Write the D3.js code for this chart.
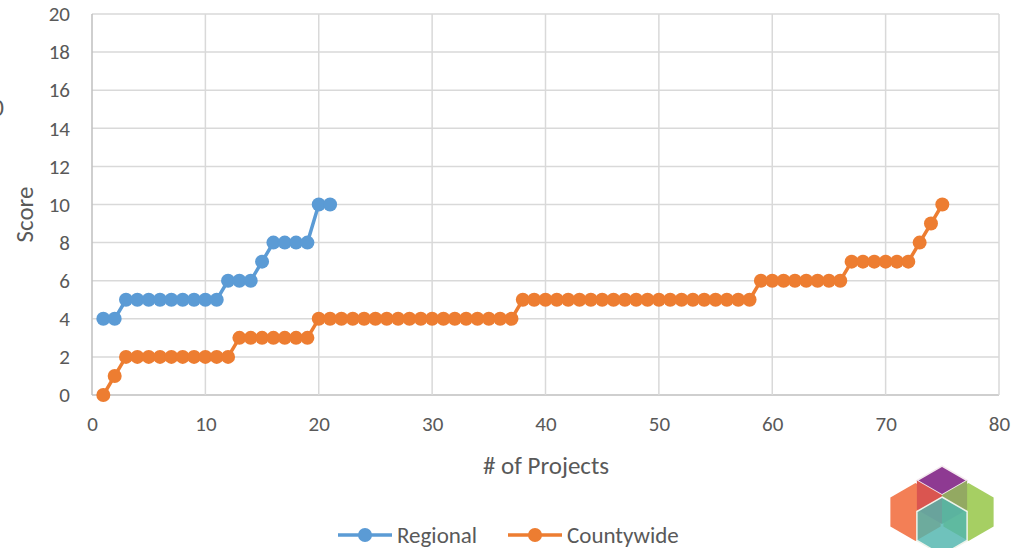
<!DOCTYPE html>
<html>
<head>
<meta charset="utf-8">
<script src="https://cdn.jsdelivr.net/npm/d3@7"></script>
<style>
  html, body { margin: 0; padding: 0; background: #fff; }
  svg { display: block; }
  text { font-family: Carlito, Lato, "Open Sans", sans-serif; fill: #595959; }
</style>
</head>
<body>
<div id="chart"></div>
<script>
// data: project number (x) and score (y)
var regionalX = [1, 2, 3, 4, 5, 6, 7, 8, 9, 10, 11, 12, 13, 14, 15, 16, 17, 18, 19, 20, 21];
var regionalY = [4, 4, 5, 5, 5, 5, 5, 5, 5, 5, 5, 6, 6, 6, 7, 8, 8, 8, 8, 10, 10];

var countyX = [1, 2, 3, 4, 5, 6, 7, 8, 9, 10, 11, 12, 13, 14, 15, 16, 17, 18, 19, 20,
  21, 22, 23, 24, 25, 26, 27, 28, 29, 30, 31, 32, 33, 34, 35, 36, 37, 38, 39, 40,
  41, 42, 43, 44, 45, 46, 47, 48, 49, 50, 51, 52, 53, 54, 55, 56, 57, 58, 59, 60,
  61, 62, 63, 64, 65, 66, 67, 68, 69, 70, 71, 72, 73, 74, 75];
var countyY = [0, 1, 2, 2, 2, 2, 2, 2, 2, 2, 2, 2, 3, 3, 3, 3, 3, 3, 3, 4,
  4, 4, 4, 4, 4, 4, 4, 4, 4, 4, 4, 4, 4, 4, 4, 4, 4, 5, 5, 5,
  5, 5, 5, 5, 5, 5, 5, 5, 5, 5, 5, 5, 5, 5, 5, 5, 5, 5, 6, 6,
  6, 6, 6, 6, 6, 6, 7, 7, 7, 7, 7, 7, 8, 9, 10];

var xTicks = [0, 10, 20, 30, 40, 50, 60, 70, 80];
var yTicks = [0, 2, 4, 6, 8, 10, 12, 14, 16, 18, 20];
var seriesNames = ["Regional", "Countywide"];
var seriesColors = ["#5b9bd5", "#ed7d31"];

var width = 1017, height = 548;
var margin = {top: 14, right: 18, bottom: 153, left: 92};
var plotW = width - margin.left - margin.right;
var plotH = height - margin.top - margin.bottom;

var svg = d3.select("#chart").append("svg")
  .attr("width", width).attr("height", height);

var x = d3.scaleLinear().domain([0, 80]).range([margin.left, margin.left + plotW]);
var y = d3.scaleLinear().domain([0, 20]).range([margin.top + plotH, margin.top]);

// grid
svg.append("g").selectAll("line.h").data(yTicks).enter().append("line")
  .attr("x1", x(0)).attr("x2", x(80))
  .attr("y1", function(d) { return y(d); }).attr("y2", function(d) { return y(d); })
  .attr("stroke", function(d) { return d === 0 ? "#bfbfbf" : "#d9d9d9"; })
  .attr("stroke-width", 1.5);
svg.append("g").selectAll("line.v").data(xTicks).enter().append("line")
  .attr("y1", y(0)).attr("y2", y(20))
  .attr("x1", function(d) { return x(d); }).attr("x2", function(d) { return x(d); })
  .attr("stroke", function(d) { return d === 0 ? "#bfbfbf" : "#d9d9d9"; })
  .attr("stroke-width", 1.5);

// axes (labels only)
var yAxis = svg.append("g")
  .attr("transform", "translate(" + (margin.left - 22) + ",0)")
  .call(d3.axisLeft(y).tickValues(yTicks).tickSize(0).tickPadding(0));
yAxis.select(".domain").remove();
yAxis.selectAll("text").style("font-size", "21px").attr("fill", "#595959");

var xAxis = svg.append("g")
  .attr("transform", "translate(0," + (y(0) + 21) + ")")
  .call(d3.axisBottom(x).tickValues(xTicks).tickSize(0).tickPadding(0));
xAxis.select(".domain").remove();
xAxis.selectAll("text").style("font-size", "21px").attr("fill", "#595959");

// axis titles
svg.append("text")
  .attr("transform", "translate(24," + (margin.top + plotH / 2 + 10) + ") rotate(-90)")
  .attr("text-anchor", "middle")
  .attr("dy", ".35em")
  .style("font-size", "25px")
  .text("Score");
svg.append("text")
  .attr("x", 546).attr("y", 465)
  .attr("text-anchor", "middle")
  .attr("dy", ".35em")
  .style("font-size", "25px")
  .text("# of Projects");

// clipped text on left edge
svg.append("text")
  .attr("x", 4).attr("y", 108)
  .attr("text-anchor", "end")
  .attr("dy", ".35em")
  .style("font-size", "24px")
  .text("0");

// series
var series = [
  {name: seriesNames[0], color: seriesColors[0], xs: regionalX, ys: regionalY},
  {name: seriesNames[1], color: seriesColors[1], xs: countyX, ys: countyY}
];

var line = d3.line()
  .x(function(d) { return x(d[0]); })
  .y(function(d) { return y(d[1]); });

series.forEach(function(s) {
  var pts = d3.zip(s.xs, s.ys);
  svg.append("path")
    .datum(pts)
    .attr("d", line)
    .attr("fill", "none")
    .attr("stroke", s.color)
    .attr("stroke-width", 3.5)
    .attr("stroke-linejoin", "round");
  svg.append("g").selectAll("circle").data(pts).enter().append("circle")
    .attr("cx", function(d) { return x(d[0]); })
    .attr("cy", function(d) { return y(d[1]); })
    .attr("r", 7)
    .attr("fill", s.color);
});

// legend
var legendPos = [338, 508];
series.forEach(function(s, i) {
  var lx = legendPos[i], ly = 535;
  svg.append("line")
    .attr("x1", lx).attr("x2", lx + 54)
    .attr("y1", ly).attr("y2", ly)
    .attr("stroke", s.color).attr("stroke-width", 3.5);
  svg.append("circle")
    .attr("cx", lx + 27).attr("cy", ly).attr("r", 7)
    .attr("fill", s.color);
  svg.append("text")
    .attr("x", lx + 59).attr("y", ly)
    .attr("dy", ".35em")
    .style("font-size", "23px")
    .text(s.name);
});

// logo, bottom right
function hex(cx, cy, r) {
  var w = r * Math.sqrt(3) / 2;
  return [[cx, cy - r], [cx + w, cy - r / 2], [cx + w, cy + r / 2],
          [cx, cy + r], [cx - w, cy + r / 2], [cx - w, cy - r / 2]];
}
var logo = svg.append("g");
var R = 29, HW = R * Math.sqrt(3) / 2;
var pathOf = function(p) { return "M" + p.join("L") + "Z"; };
logo.append("path").attr("d", pathOf(hex(915.5, 512, R))).attr("fill", "#f37f56");
logo.append("path").attr("d", pathOf(hex(968.5, 512, R))).attr("fill", "#a6cf63");
// top cube faces
var tc = [942, 495];
logo.append("path").attr("d", pathOf([[tc[0], tc[1] - R], [tc[0] + HW, tc[1] - R / 2], tc, [tc[0] - HW, tc[1] - R / 2]]))
  .attr("fill", "#8e3a92").attr("stroke", "#f4e9ee").attr("stroke-width", 1.5);
logo.append("path").attr("d", pathOf([[tc[0] - HW, tc[1] - R / 2], tc, [tc[0], tc[1] + R], [tc[0] - HW, tc[1] + R / 2]]))
  .attr("fill", "#da5550");
logo.append("path").attr("d", pathOf([tc, [tc[0] + HW, tc[1] - R / 2], [tc[0] + HW, tc[1] + R / 2], [tc[0], tc[1] + R]]))
  .attr("fill", "#93a962");
// bottom cube
logo.append("path").attr("d", pathOf(hex(942, 526, R)))
  .attr("fill", "#4fb5ad").attr("fill-opacity", 0.82)
  .attr("stroke", "#eef3ea").attr("stroke-width", 1.5);
</script>
</body>
</html>
